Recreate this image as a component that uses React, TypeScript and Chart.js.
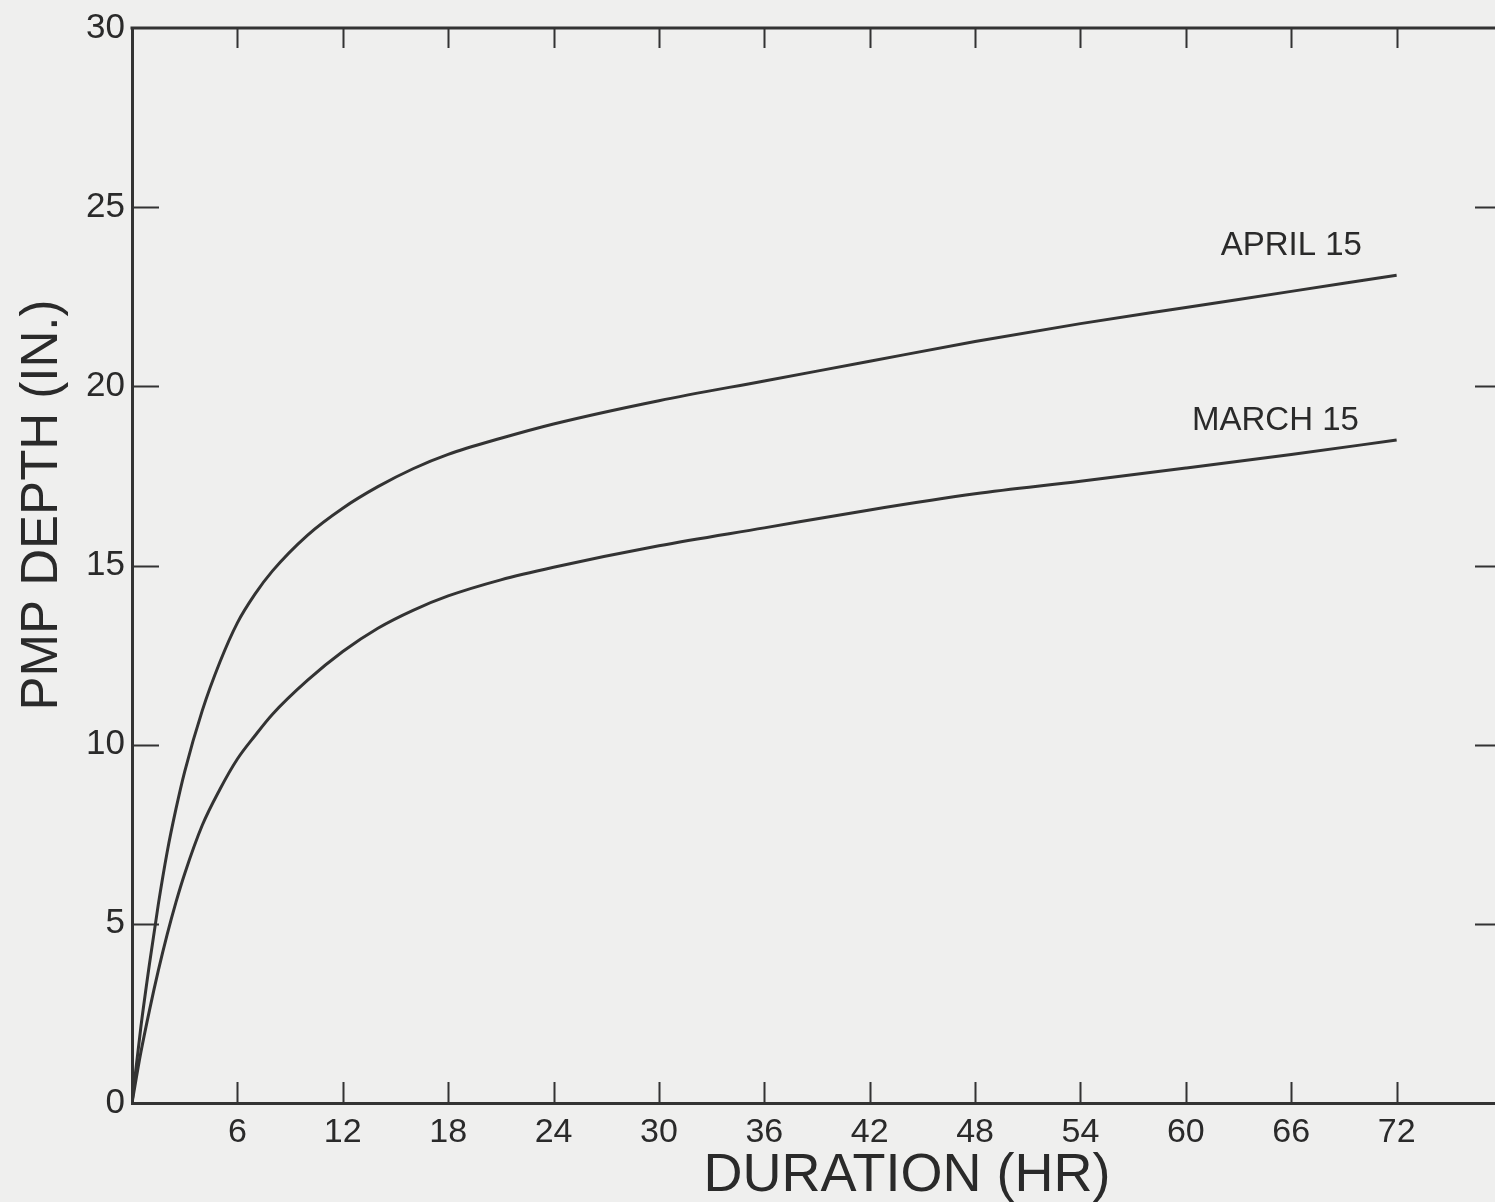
import React, { useEffect, useRef } from "react";
import { Chart, registerables } from "chart.js";

Chart.register(...registerables);

// ---- data (duration in hours, PMP depth in inches) ----
const aprilHours = [0, 0.5, 1, 1.5, 2, 2.5, 3, 4, 5, 6, 7, 8, 10, 12, 14, 16, 18, 21, 24, 30, 36, 42, 48, 54, 60, 66, 72];
const aprilDepth = [0, 2.1, 3.9, 5.55, 7.0, 8.2, 9.25, 10.95, 12.3, 13.4, 14.2, 14.85, 15.85, 16.6, 17.2, 17.7, 18.1, 18.55, 18.95, 19.6, 20.15, 20.7, 21.25, 21.75, 22.2, 22.65, 23.1];

const marchHours = [0, 0.5, 1, 1.5, 2, 2.5, 3, 4, 5, 6, 7, 8, 10, 12, 14, 16, 18, 21, 24, 30, 36, 42, 48, 54, 60, 66, 72];
const marchDepth = [0, 1.4, 2.6, 3.7, 4.7, 5.6, 6.4, 7.75, 8.75, 9.6, 10.25, 10.85, 11.8, 12.6, 13.25, 13.75, 14.15, 14.6, 14.95, 15.55, 16.05, 16.55, 17.0, 17.35, 17.72, 18.1, 18.5];

const xTickValues = [6, 12, 18, 24, 30, 36, 42, 48, 54, 60, 66, 72];
const yTickValues = [0, 5, 10, 15, 20, 25, 30];
const xMin = 0;
const xMax = 77.6;
const yMin = 0;
const yMax = 30;

const curveLabels = ["APRIL 15", "MARCH 15"];
const curveLabelX = [66.0, 65.1];
const curveLabelY = [23.66, 18.79];

const xTitle = "DURATION (HR)";
const yTitle = "PMP DEPTH (IN.)";

const INK = "#333333";
const TEXT = "#2a2a2a";
const BG = "#efefee";
const FONT = "'Liberation Sans', Arial, sans-serif";

const toPoints = (xs: number[], ys: number[]) => xs.map((x, i) => ({ x, y: ys[i] }));

const framePlugin = {
  id: "frame",
  beforeDraw(chart: any) {
    const { ctx, width, height } = chart;
    ctx.save();
    ctx.fillStyle = BG;
    ctx.fillRect(0, 0, width, height);
    ctx.restore();
  },
  afterDraw(chart: any) {
    const { ctx, chartArea } = chart;
    const xs = chart.scales.x;
    const ys = chart.scales.y;
    const { left, right, top, bottom } = chartArea;
    ctx.save();
    ctx.strokeStyle = INK;
    ctx.lineCap = "butt";
    // top border
    ctx.lineWidth = 3;
    ctx.beginPath();
    ctx.moveTo(left - 1.5, top);
    ctx.lineTo(right, top);
    ctx.stroke();
    // inward ticks
    ctx.lineWidth = 2;
    ctx.beginPath();
    for (const v of xTickValues) {
      const px = Math.round(xs.getPixelForValue(v)) + 0.5;
      ctx.moveTo(px, bottom);
      ctx.lineTo(px, bottom - 21);
      ctx.moveTo(px, top);
      ctx.lineTo(px, top + 20);
    }
    for (const v of yTickValues) {
      if (v === yMin || v === yMax) continue;
      const py = Math.round(ys.getPixelForValue(v)) + 0.5;
      ctx.moveTo(left, py);
      ctx.lineTo(left + 27, py);
      ctx.moveTo(right, py);
      ctx.lineTo(right - 20, py);
    }
    ctx.stroke();
    // curve labels
    ctx.fillStyle = TEXT;
    ctx.font = `33px ${FONT}`;
    ctx.textAlign = "center";
    ctx.textBaseline = "alphabetic";
    curveLabels.forEach((t, i) => {
      ctx.fillText(t, xs.getPixelForValue(curveLabelX[i]), ys.getPixelForValue(curveLabelY[i]));
    });
    // axis titles
    ctx.font = `54px ${FONT}`;
    ctx.textBaseline = "middle";
    ctx.fillText(xTitle, 907, 1176);
    ctx.save();
    ctx.translate(43, 505);
    ctx.rotate(-Math.PI / 2);
    ctx.font = `51px ${FONT}`;
    ctx.fillText(yTitle, 0, 0);
    ctx.restore();
    ctx.restore();
  },
};

export default function App() {
  const ref = useRef<HTMLCanvasElement | null>(null);

  useEffect(() => {
    if (!ref.current) return;
    const chart = new Chart(ref.current, {
      type: "line",
      data: {
        datasets: [
          {
            label: "April 15",
            data: toPoints(aprilHours, aprilDepth),
            borderColor: INK,
            borderWidth: 3,
            pointRadius: 0,
            cubicInterpolationMode: "monotone",
            fill: false,
          },
          {
            label: "March 15",
            data: toPoints(marchHours, marchDepth),
            borderColor: INK,
            borderWidth: 3,
            pointRadius: 0,
            cubicInterpolationMode: "monotone",
            fill: false,
          },
        ],
      },
      options: {
        responsive: false,
        animation: false,
        devicePixelRatio: 1,
        layout: { padding: { top: 25, right: 0, left: 0, bottom: 0 } },
        plugins: { legend: { display: false }, tooltip: { enabled: false } },
        scales: {
          x: {
            type: "linear",
            min: xMin,
            max: xMax,
            grid: { display: false, drawTicks: false },
            border: { display: true, color: INK, width: 3 },
            afterBuildTicks: (scale: any) => {
              scale.ticks = xTickValues.map((v) => ({ value: v }));
            },
            afterFit: (scale: any) => {
              scale.height = 99;
            },
            ticks: {
              padding: 9,
              color: TEXT,
              font: { family: FONT, size: 34 },
              maxRotation: 0,
              autoSkip: false,
            },
          },
          y: {
            type: "linear",
            min: yMin,
            max: yMax,
            grid: { display: false, drawTicks: false },
            border: { display: true, color: INK, width: 3 },
            afterBuildTicks: (scale: any) => {
              scale.ticks = yTickValues.map((v) => ({ value: v }));
            },
            afterFit: (scale: any) => {
              scale.width = 132;
            },
            ticks: {
              padding: 7,
              color: TEXT,
              font: { family: FONT, size: 35 },
              autoSkip: false,
            },
          },
        },
      },
      plugins: [framePlugin],
    } as any);
    return () => chart.destroy();
  }, []);

  return (
    <div style={{ position: "fixed", left: 0, top: 0, width: 1495, height: 1202, background: BG }}>
      <canvas ref={ref} width={1495} height={1202} style={{ display: "block" }} />
    </div>
  );
}
